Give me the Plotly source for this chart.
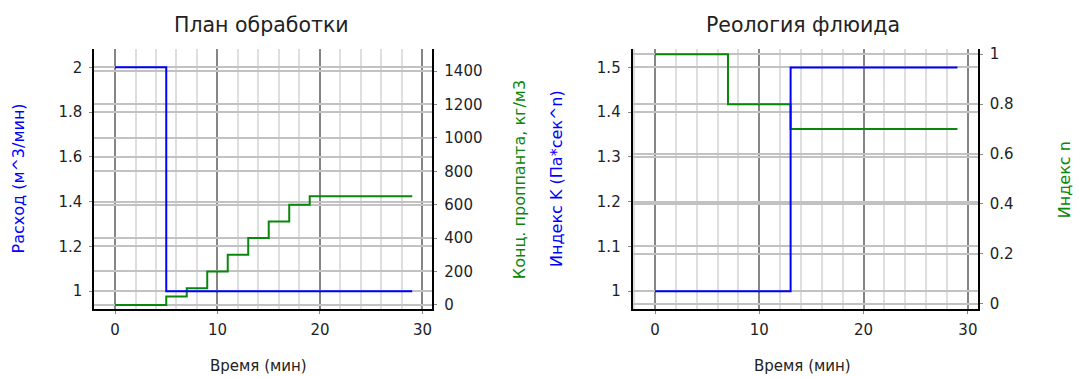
import plotly.graph_objects as go

# ---- Treatment schedule (left panel) ----
time_rate = [0, 5, 29]                      # min
rate = [2, 1, 1]                            # m^3/min
time_conc = [0, 5, 7, 9, 11, 13, 15, 17, 19, 29]   # min
conc = [0, 50, 100, 200, 300, 400, 500, 600, 650, 650]  # kg/m3

# ---- Fluid rheology (right panel) ----
time_k = [0, 13, 29]
k_index = [1, 1.5, 1.5]                     # Pa*s^n
time_n = [0, 7, 13, 29]
n_index = [1, 0.8, 0.7, 0.7]

BLUE = "#0000ff"
GREEN = "#0a870a"
FONT = "DejaVu Sans"
TICK_FONT = dict(family=FONT, size=15, color="#1e1e28")

W, H = 1079, 377
y_dom = [1 - 312.7 / H, 1 - 46.7 / H]
left_dom = [94.3 / W, 432.3 / W]
right_dom = [632.7 / W, 977.7 / W]

fig = go.Figure()

# green series first (base axes), blue drawn on the overlaying axes on top
fig.add_trace(go.Scatter(x=time_conc, y=conc, mode="lines", line_shape="hv",
                         line=dict(color=GREEN, width=2), xaxis="x", yaxis="y"))
fig.add_trace(go.Scatter(x=time_rate, y=rate, mode="lines", line_shape="hv",
                         line=dict(color=BLUE, width=2), xaxis="x", yaxis="y2"))
fig.add_trace(go.Scatter(x=time_n, y=n_index, mode="lines", line_shape="hv",
                         line=dict(color=GREEN, width=2), xaxis="x2", yaxis="y3"))
fig.add_trace(go.Scatter(x=time_k, y=k_index, mode="lines", line_shape="hv",
                         line=dict(color=BLUE, width=2), xaxis="x2", yaxis="y4"))

H_GRID = "#c2c2c2"
common_axis = dict(
    showline=True, linecolor="black", linewidth=2,
    ticks="outside", ticklen=3, tickcolor="#888888",
    tickfont=TICK_FONT, zeroline=False,
)

def x_axis(domain, rng, anchor):
    return dict(
        **common_axis, domain=domain, range=rng, anchor=anchor,
        dtick=10, tick0=0, showgrid=True, gridcolor="#858585", gridwidth=1.5,
        minor=dict(dtick=2, tick0=0, showgrid=True, gridcolor="#dedede",
                   gridwidth=1.5),
        ticklabelstandoff=3,
    )

def y_axis(rng, dtick, side, anchor, overlaying=None):
    ax = dict(
        **common_axis, domain=y_dom, range=rng, dtick=dtick, side=side,
        anchor=anchor, showgrid=True, gridcolor=H_GRID, gridwidth=1.5,
        ticklabelstandoff=4,
    )
    if overlaying:
        ax["overlaying"] = overlaying
    return ax

fig.update_layout(
    width=W, height=H,
    margin=dict(l=0, r=0, t=0, b=0),
    paper_bgcolor="white", plot_bgcolor="white",
    showlegend=False,
    xaxis=x_axis(left_dom, [-2.02, 30.96], "y"),
    yaxis=y_axis([-25, 1534], 200, "right", "x"),
    yaxis2=y_axis([0.92, 2.083], 0.2, "left", "x", overlaying="y"),
    xaxis2=x_axis(right_dom, [-2.14, 30.94], "y3"),
    yaxis3=y_axis([-0.021, 1.022], 0.2, "right", "x2"),
    yaxis4=y_axis([0.96, 1.542], 0.1, "left", "x2", overlaying="y3"),
)

def ann(text, x_px, y_px, size=14, color="#222222", angle=0):
    fig.add_annotation(
        text=text, x=x_px / W, y=1 - y_px / H, xref="paper", yref="paper",
        xanchor="center", yanchor="middle", showarrow=False, textangle=angle,
        font=dict(family=FONT, size=size, color=color),
    )

# panel titles
ann("План обработки", 261.7, 22.7, size=20.5)
ann("Реология флюида", 803, 22.7, size=20.5)

# axis titles
ann("Время (мин)", 258, 371, size=15)
ann("Время (мин)", 802, 371, size=15)
ann("Расход (м^3/мин)", 18.3, 179, size=16, color=BLUE, angle=-90)
ann("Конц. проппанта, кг/м3", 519, 181, size=16, color=GREEN, angle=-90)
ann("Индекс K (Па*сек^n)", 556.7, 179, size=16, color=BLUE, angle=-90)
ann("Индекс n", 1064, 181, size=16, color=GREEN, angle=-90)

fig.write_html("out.html")
